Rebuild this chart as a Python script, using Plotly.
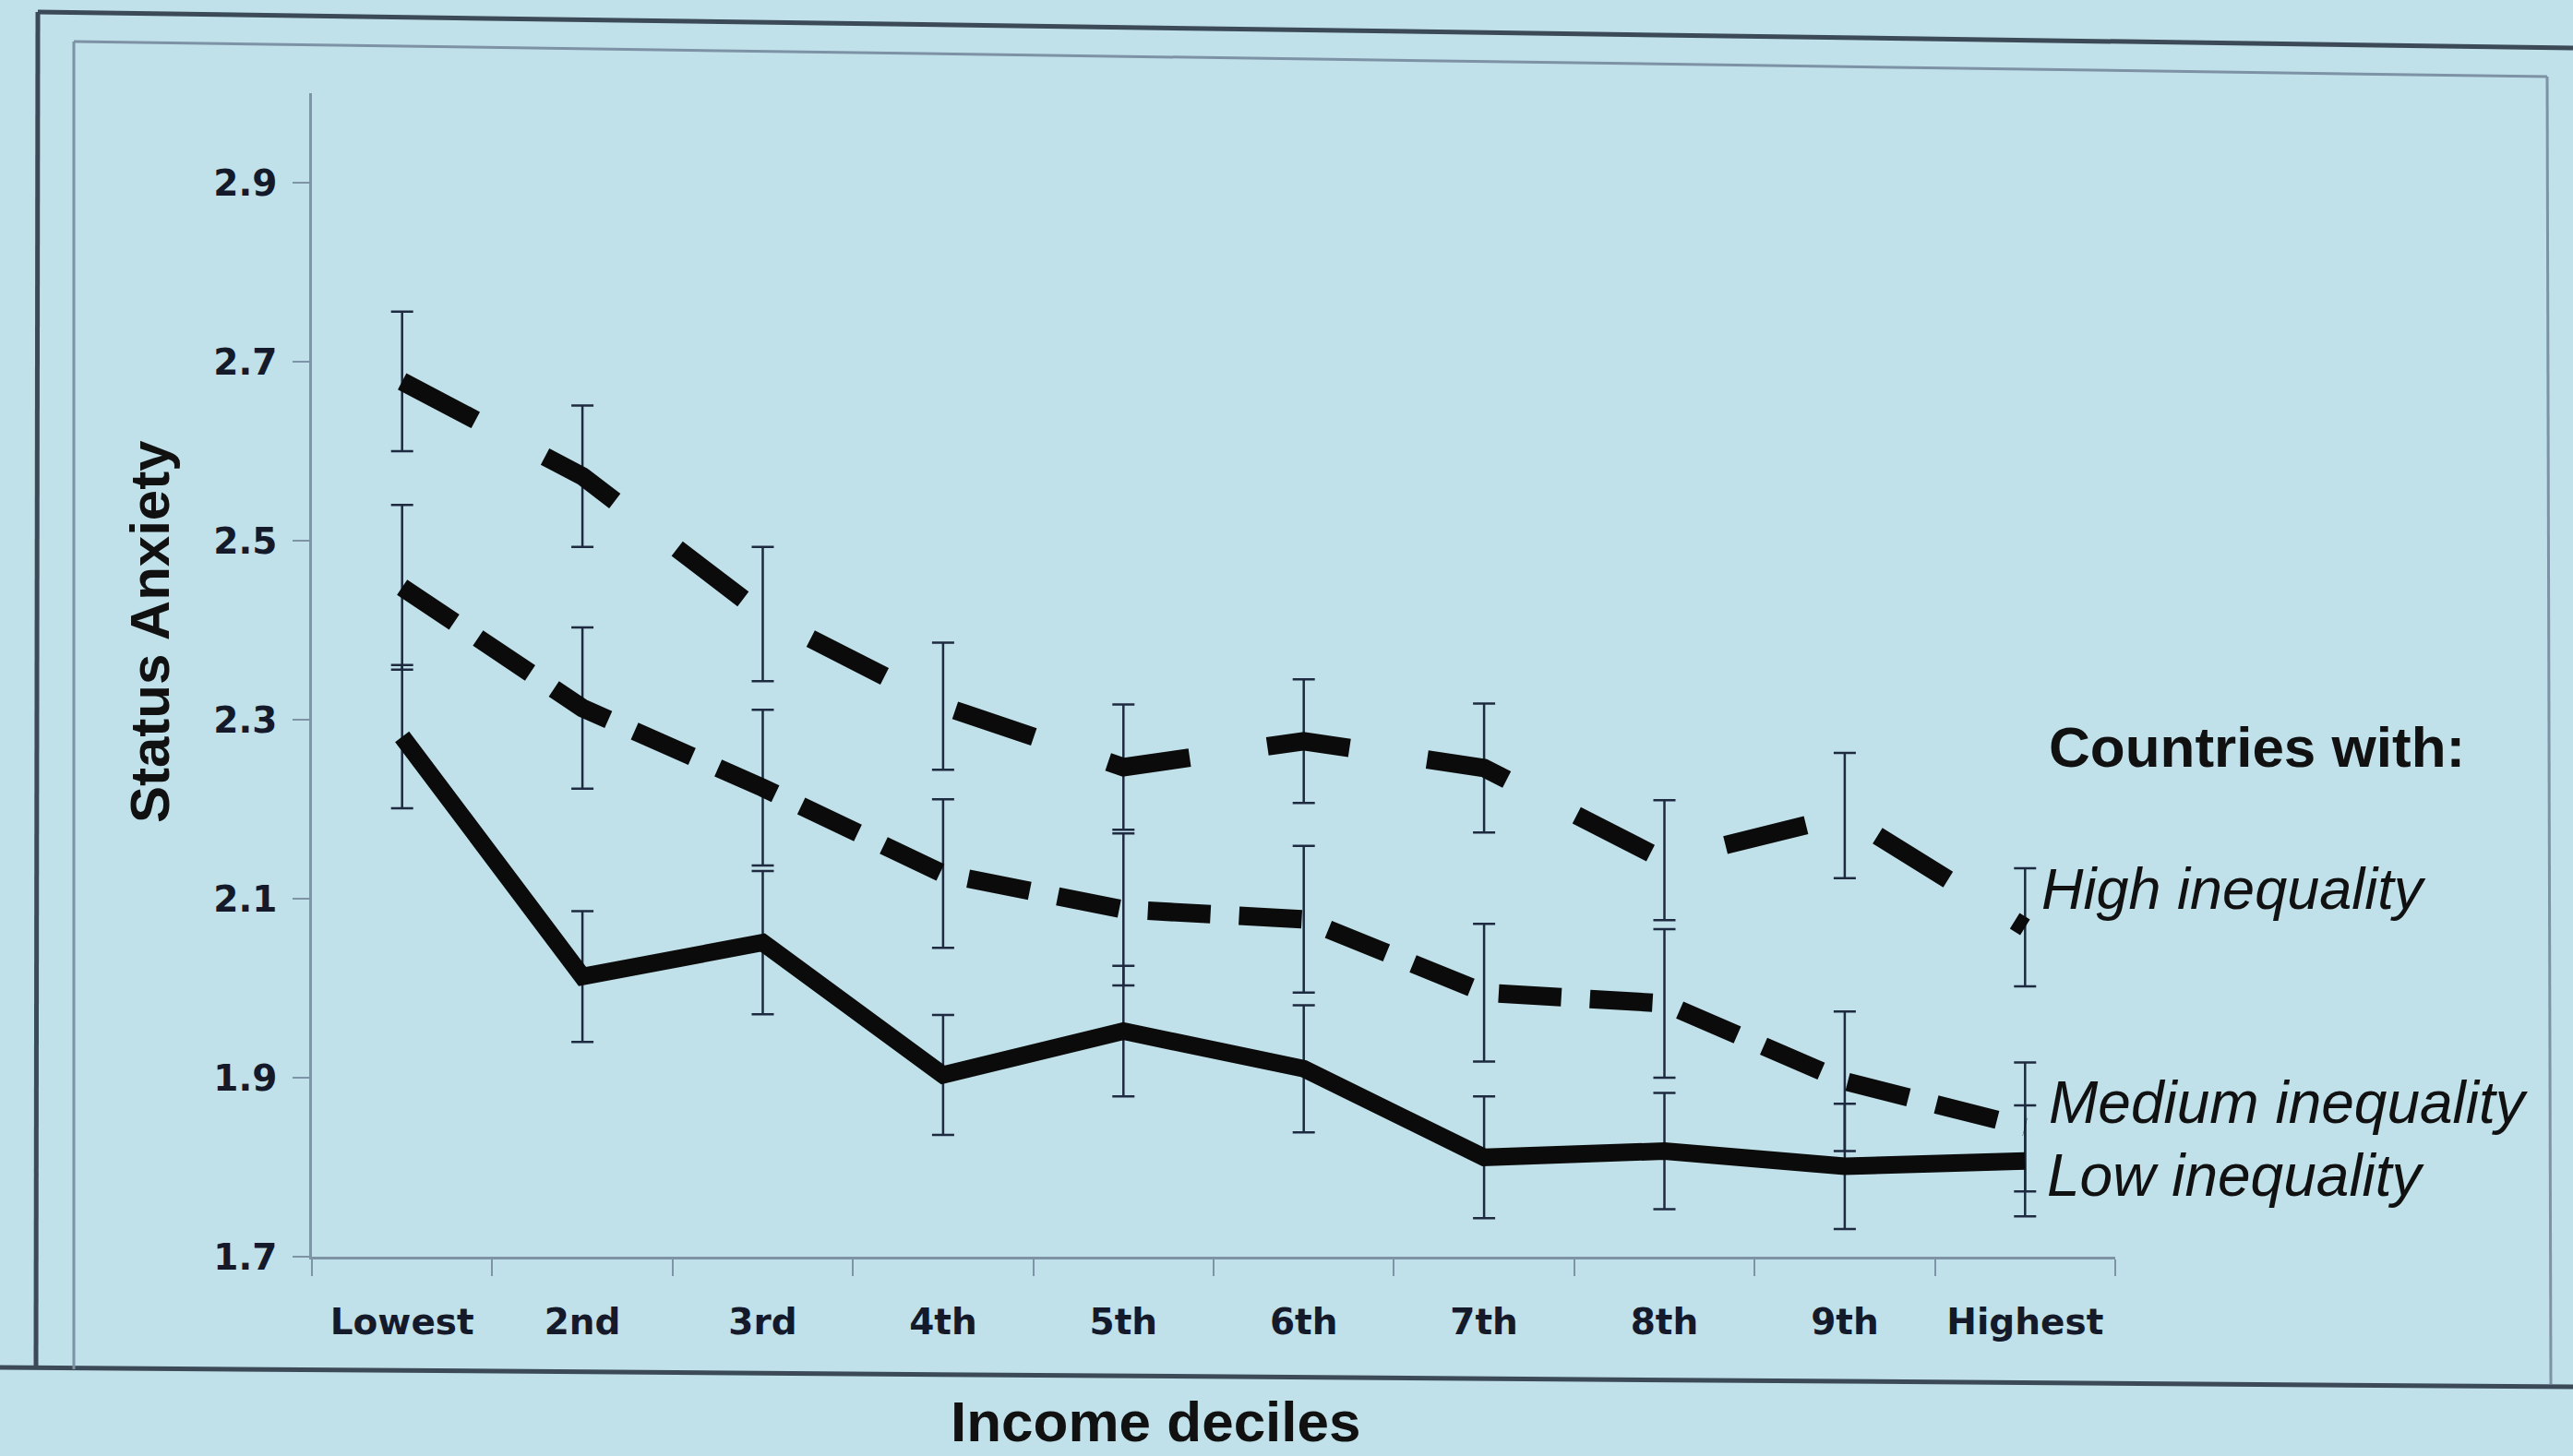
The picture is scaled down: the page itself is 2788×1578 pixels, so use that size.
import plotly.graph_objects as go

deciles = ["Lowest", "2nd", "3rd", "4th", "5th", "6th", "7th", "8th", "9th", "Highest"]
high = [2.678, 2.572, 2.418, 2.315, 2.247, 2.276, 2.246, 2.143, 2.193, 2.068]
high_err = [0.078, 0.079, 0.075, 0.071, 0.070, 0.069, 0.072, 0.067, 0.070, 0.066]
medium = [2.448, 2.313, 2.224, 2.128, 2.088, 2.077, 1.995, 1.983, 1.896, 1.845]
medium_err = [0.092, 0.090, 0.087, 0.083, 0.085, 0.082, 0.077, 0.083, 0.078, 0.072]
low = [2.281, 2.013, 2.051, 1.903, 1.952, 1.910, 1.811, 1.818, 1.801, 1.807]
low_err = [0.080, 0.073, 0.080, 0.067, 0.073, 0.071, 0.068, 0.065, 0.070, 0.062]
y_ticks = [1.7, 1.9, 2.1, 2.3, 2.5, 2.7, 2.9]

W, H = 2788, 1578
L, R, T, B = 338, 2292, 101, 1362
BG = "#c0e1ea"
INK = "#0b0b0b"
ERR = "#1e2a40"


def px(xp):
    return (xp - L) / (R - L)


def py(yp):
    return (B - yp) / (B - T)


fig = go.Figure()

# error bars first (drawn beneath the thick lines)
for vals, errs in [(high, high_err), (medium, medium_err), (low, low_err)]:
    fig.add_trace(go.Scatter(
        x=deciles, y=vals, mode="markers",
        marker=dict(size=1, color=ERR, opacity=0),
        error_y=dict(type="data", array=errs, visible=True, color=ERR,
                     thickness=2.5, width=12),
        showlegend=False, hoverinfo="skip"))

fig.add_trace(go.Scatter(x=deciles, y=high, mode="lines", name="High inequality",
                         line=dict(color=INK, width=20, dash="90px,85px"),
                         showlegend=False))
fig.add_trace(go.Scatter(x=deciles, y=medium, mode="lines", name="Medium inequality",
                         line=dict(color=INK, width=20, dash="68px,31px"),
                         showlegend=False))
fig.add_trace(go.Scatter(x=deciles, y=low, mode="lines", name="Low inequality",
                         line=dict(color=INK, width=19),
                         showlegend=False))

tick_font = dict(family="DejaVu Sans", size=39, color="#151a2a", weight="bold")
label_font = dict(family="Liberation Sans", color="#111111")

fig.update_xaxes(type="category", range=[-0.5, 9.5], showline=True, linecolor="#7f93a6",
                 linewidth=2.5, ticks="outside", ticklen=18, tickcolor="#7f93a6",
                 tickwidth=2, tickson="boundaries", showgrid=False, zeroline=False,
                 tickfont=tick_font, ticklabelstandoff=34)
fig.update_yaxes(range=[1.7, 3.0], tickvals=y_ticks, ticktext=[f"{v:.1f}" for v in y_ticks],
                 showline=True, linecolor="#7f93a6", linewidth=2.5, ticks="outside",
                 ticklen=18, tickcolor="#7f93a6", tickwidth=2, showgrid=False,
                 zeroline=False, tickfont=tick_font, ticklabelstandoff=9)

annotations = [
    dict(text="<b>Status Anxiety</b>", x=px(162), y=py(685), textangle=-90,
         font=dict(size=60, **label_font), xanchor="center", yanchor="middle"),
    dict(text="<b>Income deciles</b>", x=px(1252), y=py(1540),
         font=dict(size=62, **label_font), xanchor="center", yanchor="middle"),
    dict(text="<b>Countries with:</b>", x=px(2445), y=py(809),
         font=dict(size=62, **label_font), xanchor="center", yanchor="middle"),
    dict(text="<i>High inequality</i>", x=px(2210), y=py(963),
         font=dict(size=63, **label_font), xanchor="left", yanchor="middle"),
    dict(text="<i>Medium inequality</i>", x=px(2218), y=py(1195),
         font=dict(size=64, **label_font), xanchor="left", yanchor="middle"),
    dict(text="<i>Low inequality</i>", x=px(2216), y=py(1274),
         font=dict(size=64, **label_font), xanchor="left", yanchor="middle"),
]
for a in annotations:
    a.update(xref="paper", yref="paper", showarrow=False)

shapes = [
    # outer dark slide frame
    dict(type="line", x0=px(41), y0=py(13), x1=px(2788), y1=py(52),
         line=dict(color="#3c4a58", width=5)),
    dict(type="line", x0=px(41), y0=py(13), x1=px(39), y1=py(1484),
         line=dict(color="#3c4a58", width=5)),
    dict(type="line", x0=px(0), y0=py(1482), x1=px(2788), y1=py(1503),
         line=dict(color="#3c4a58", width=5)),
    # inner lighter chart frame
    dict(type="line", x0=px(80), y0=py(45), x1=px(2760), y1=py(83),
         line=dict(color="#7d92a4", width=3)),
    dict(type="line", x0=px(80), y0=py(45), x1=px(80), y1=py(1484),
         line=dict(color="#7d92a4", width=3)),
    dict(type="line", x0=px(2760), y0=py(83), x1=px(2764), y1=py(1500),
         line=dict(color="#7d92a4", width=3)),
]
for s in shapes:
    s.update(xref="paper", yref="paper", layer="below")

fig.update_layout(
    width=W, height=H, autosize=False,
    margin=dict(l=L, r=W - R, t=T, b=H - B, pad=0),
    paper_bgcolor=BG, plot_bgcolor=BG,
    showlegend=False,
    annotations=annotations, shapes=shapes,
)

page_fix = ("document.body.style.margin='0px';"
            "document.body.style.overflow='hidden';"
            "document.body.style.background='" + BG + "';")

fig.write_html("out.html", post_script=page_fix, config={"displayModeBar": False})
